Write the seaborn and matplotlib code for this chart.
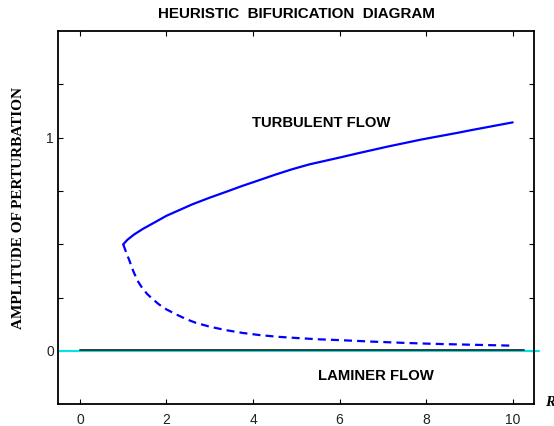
import matplotlib
matplotlib.use("Agg")
import matplotlib.pyplot as plt
import seaborn as sns
import pandas as pd

# Data
upper_R = [1.0, 1.1, 1.25, 1.45, 1.7, 2.0, 2.2, 2.6, 3.0, 3.4, 3.75, 4.1, 4.5,
           4.9, 5.3, 5.65, 6.0, 6.4, 6.75, 7.1, 7.5, 7.9, 8.3, 8.7, 9.05, 9.5, 10.0]
upper_amp = [0.50, 0.522, 0.546, 0.572, 0.600, 0.634, 0.652, 0.688, 0.719, 0.748,
             0.774, 0.798, 0.826, 0.852, 0.875, 0.891, 0.907, 0.926, 0.942, 0.958,
             0.975, 0.992, 1.007, 1.022, 1.036, 1.053, 1.072]

lower_R = [1.0, 1.07, 1.14, 1.23, 1.33, 1.44, 1.56, 1.7, 1.83, 2.0, 2.22, 2.45,
           2.68, 3.0, 3.37, 3.75, 4.14, 4.55, 5.0, 5.5, 6.0, 6.75, 7.5, 8.1, 8.7,
           9.35, 10.0]
lower_amp = [0.50, 0.462, 0.426, 0.376, 0.330, 0.295, 0.266, 0.240, 0.218, 0.195,
             0.172, 0.150, 0.132, 0.114, 0.098, 0.085, 0.075, 0.067, 0.061, 0.055,
             0.051, 0.044, 0.038, 0.034, 0.031, 0.028, 0.025]

laminar_R = [0.0, 10.25]
laminar_amp = [0.0, 0.0]

x_ticks = [0, 2, 4, 6, 8, 10]
y_ticks = [0, 0.25, 0.5, 0.75, 1.0, 1.25]
y_tick_labels = ["0", "", "", "", "1", ""]

title = "HEURISTIC  BIFURICATION  DIAGRAM"
ylabel = "AMPLITUDE OF PERTURBATION"

sns.set_style("ticks")
plt.rcParams["font.family"] = ["Liberation Sans", "DejaVu Sans"]
plt.rcParams["text.color"] = "black"

fig = plt.figure(figsize=(5.54, 4.26), dpi=100)
ax = fig.add_axes([0.1052, 0.0509, 0.8593, 0.8761])

up = pd.DataFrame({"R": upper_R, "A": upper_amp})
lo = pd.DataFrame({"R": lower_R, "A": lower_amp})
lam = pd.DataFrame({"R": laminar_R, "A": laminar_amp})

# cyan zero line
ax.plot([-0.5, 10.6], [0, 0], color="#00E5E5", lw=1.5, clip_on=False, zorder=2)
sns.lineplot(data=lam, x="R", y="A", ax=ax, color="#3a3a3a", lw=1.4, zorder=3)
ax.lines[-1].set_ydata([0.004, 0.004])
sns.lineplot(data=up, x="R", y="A", ax=ax, color="#0000FF", lw=1.6, zorder=4)
sns.lineplot(data=lo, x="R", y="A", ax=ax, color="#0000FF", lw=1.6, zorder=4)
ax.lines[-1].set_dashes([3.6, 2.3])

ax.set_xlim(-0.5, 10.5)
ax.set_ylim(-0.25, 1.5)
ax.set_xticks(x_ticks)
ax.set_yticks(y_ticks)
ax.set_yticklabels(y_tick_labels)
ax.tick_params(direction="in", length=3.5, width=0.8, top=True, right=True,
               labelsize=10, colors="black")
ax.tick_params(axis="x", pad=6.5)
ax.tick_params(axis="y", pad=3)
for lab in ax.get_xticklabels() + ax.get_yticklabels():
    lab.set_color("#222222")
for s in ax.spines.values():
    s.set_linewidth(1.3)
    s.set_color("black")
ax.set_xlabel("")
ax.set_ylabel("")

ax.text(5.58, 1.07, "TURBULENT FLOW", ha="center", va="center",
        fontsize=10.7, fontweight="bold", color="black")
ax.text(6.85, -0.116, "LAMINER FLOW", ha="center", va="center",
        fontsize=10.7, fontweight="bold", color="black")

fig.text(296 / 554, 1 - 14 / 426, title, ha="center", va="center",
         fontsize=10.9, fontweight="bold", color="black")
fig.text(19 / 554, 1 - 208 / 426, ylabel, rotation=90, ha="center", va="center",
         fontsize=11, fontweight="bold", color="black",
         family=["Liberation Serif", "DejaVu Serif"])
fig.text(545 / 554, 1 - 402 / 426, "R", ha="left", va="center",
         fontsize=11, style="italic", fontweight="bold", color="black",
         family=["Liberation Serif", "DejaVu Serif"])

fig.savefig("out.png", dpi=100)
